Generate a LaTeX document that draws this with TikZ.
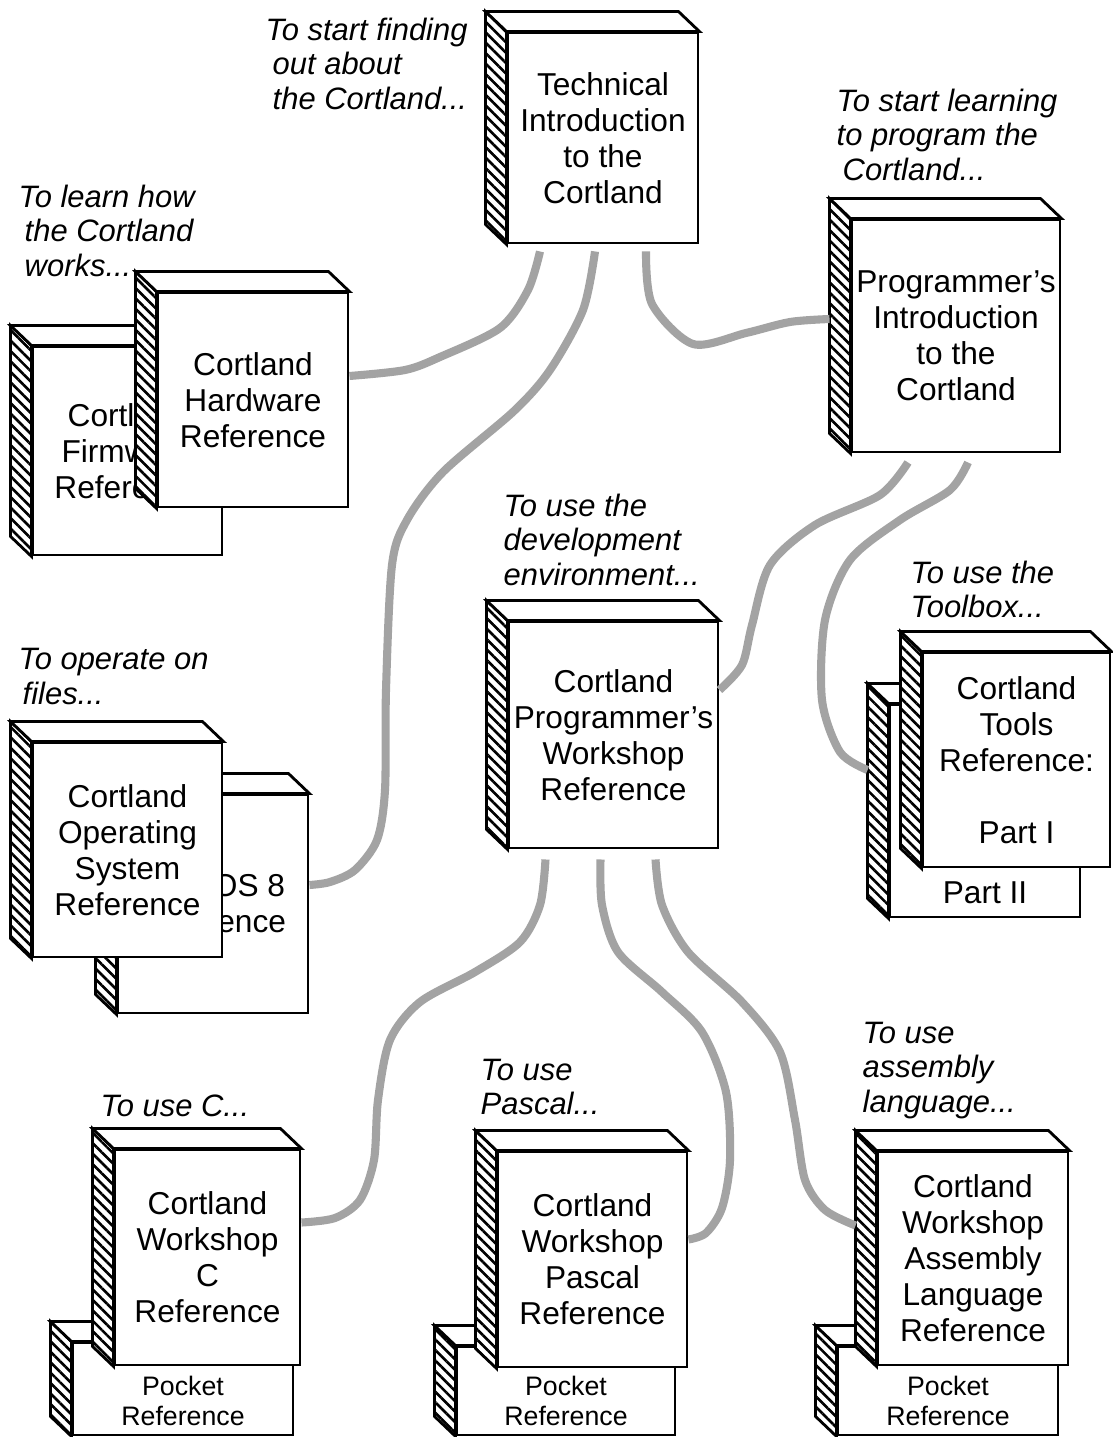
\documentclass[tikz,border=0pt]{standalone}
\usepackage{fontspec}
\setmainfont{Liberation Sans}
\usetikzlibrary{patterns.meta}

\newcommand{\bookfont}{\fontsize{9}{10.24}\selectfont}
% front face as a node, then the hatched spine and the top
\newcommand{\book}[6][]{%
  \node[face, minimum width=#4, minimum height=#5, #1] (#2) at #3 {#6};
  \draw[spine] (#2.north west) -- ++(-21,-20) -- ([shift={(-21,-20)}]#2.south west) -- (#2.south west) -- cycle;
  \draw[lid] (#2.north west) -- ++(-21,-20) -- ([shift={(-21,-20)}]#2.north east) -- (#2.north east) -- cycle;
}

\begin{document}
\begin{tikzpicture}[x=0.01cm, y=-0.01cm,
  face/.style = {draw, fill=white, line width=0.8pt, inner sep=0pt,
    align=center, font=\bookfont},
  spine/.style = {line width=0.8pt, preaction={fill=white},
    pattern={Lines[angle=-45, distance=2.1pt, line width=0.75pt]}},
  lid/.style = {line width=0.8pt, fill=white},
  caption/.style = {anchor=north west, inner sep=0pt, align=left,
    font=\fontsize{8.8}{9.9}\selectfont\itshape},
  pockettext/.style = {anchor=south, yshift=0.10cm, inner sep=0pt,
    align=center, font=\fontsize{7.6}{8.5}\selectfont},
  link/.style = {draw=black!36, line width=2.3pt},
 ]
 \useasboundingbox (0,0) rectangle (1113,1437);

 % hardware / firmware
 \book{fw}{(127.5,451)}{1.89cm}{2.08cm}{Cortland\\Firmware\\Reference}
 \book{hw}{(253,400)}{1.90cm}{2.14cm}{Cortland\\Hardware\\Reference}
 % operating system
 \book{prodos}{(213,904)}{1.90cm}{2.18cm}{ProDOS 8\\Reference}
 \book{os}{(127.5,850)}{1.89cm}{2.14cm}{Cortland\\Operating\\System\\Reference}
 % introductions
 \book{tech}{(603,138)}{1.90cm}{2.10cm}{Technical\\Introduction\\to the\\Cortland}
 \book{progintro}{(956,336)}{2.08cm}{2.32cm}{Programmer's\\Introduction\\to the\\Cortland}
 % workshop
 \book{cpw}{(613.5,735)}{2.09cm}{2.26cm}{Cortland\\Programmer's\\Workshop\\Reference}
 % toolbox
 \book[label={[name=partii, anchor=south, yshift=0.14cm, inner sep=0pt, font=\bookfont]south:Part II}]{tools2}{(985,811)}{1.90cm}{2.12cm}{}
 \book{tools1}{(1016.5,760)}{1.87cm}{2.14cm}{Cortland\\Tools\\Reference:\\[0.36cm]Part I}
 % languages
 \book[label={[name=cpockettxt, pockettext]south:Pocket\\Reference}]{cpocket}{(183,1389)}{2.20cm}{0.92cm}{}
 \book{cref}{(207.5,1257.5)}{1.85cm}{2.15cm}{Cortland\\Workshop\\C\\Reference}
 \book[label={[name=ppockettxt, pockettext]south:Pocket\\Reference}]{ppocket}{(566,1391)}{2.18cm}{0.88cm}{}
 \book{pascal}{(592.5,1259.5)}{1.89cm}{2.15cm}{Cortland\\Workshop\\Pascal\\Reference}
 \book[label={[name=apockettxt, pockettext]south:Pocket\\Reference}]{apocket}{(948,1391)}{2.20cm}{0.88cm}{}
 \book{asm}{(973,1258.5)}{1.90cm}{2.13cm}{Cortland\\Workshop\\Assembly\\Language\\Reference}

 % captions
 \node[caption] (techcap) at (265,17) {To start finding\\\hspace*{0.07cm}out about\\\hspace*{0.07cm}the Cortland...};
 \node[caption] (progcap) at (836,88) {To start learning\\to program the\\\hspace*{0.06cm}Cortland...};
 \node[caption] (hwcap) at (18,184) {To learn how\\\hspace*{0.06cm}the Cortland\\\hspace*{0.06cm}works...};
 \node[caption] (cpwcap) at (503,493) {To use the\\development\\environment...};
 \node[caption] (toolcap) at (910,560) {To use the\\Toolbox...};
 \node[caption] (oscap) at (18,648) {To operate on\\\hspace*{0.04cm}files...};
 \node[caption] (ccap) at (100,1094) {To use C...};
 \node[caption] (pascalcap) at (480,1058) {To use\\Pascal...};
 \node[caption] (asmcap) at (862,1021) {To use\\assembly\\language...};

 % connectors
 \draw[link] plot[smooth] coordinates {([shift={(-63,7)}]tech.south) (528,290) (500,328) (440,357) (405,370) ([shift={(0,-24)}]hw.east)};
 \draw[link] plot[smooth] coordinates {([shift={(-8,7)}]tech.south) (583,310) (550,370) (514,411) (443,472) (407,520) (392,565) (386,690) (385,790) (377,840) (355,870) (330,882) ([shift={(0,-19)}]prodos.east)};
 \draw[link] plot[smooth] coordinates {([shift={(43,7)}]tech.south) (652,304) (693,344) (746,333) (790,322) ([shift={(-21,-17)}]progintro.west)};
 \draw[link] plot[smooth] coordinates {([shift={(-48,9)}]progintro.south) (880,495) (815,525) (770,565) (752,625) (742,665) ([shift={(0,-45)}]cpw.east)};
 \draw[link] plot[smooth] coordinates {([shift={(12,9)}]progintro.south) (950,490) (900,520) (850,560) (825,620) (822,700) (840,752) ([shift={(-21,-41)}]tools2.west)};
 \draw[link] plot[smooth] coordinates {([shift={(-68,10)}]cpw.south) (540,905) (520,942) (475,972) (420,1002) (390,1040) (378,1100) (374,1160) (360,1200) (335,1218) ([shift={(0,-35)}]cref.east)};
 \draw[link] plot[smooth] coordinates {([shift={(-13,10)}]cpw.south) (602,905) (618,952) (662,992) (702,1032) (726,1092) (730,1160) (722,1208) (706,1233) ([shift={(0,-20)}]pascal.east)};
 \draw[link] plot[smooth] coordinates {([shift={(42,10)}]cpw.south) (662,905) (688,952) (742,1002) (780,1052) (795,1120) (805,1180) (825,1210) ([shift={(-21,-33)}]asm.west)};
\end{tikzpicture}
\end{document}
